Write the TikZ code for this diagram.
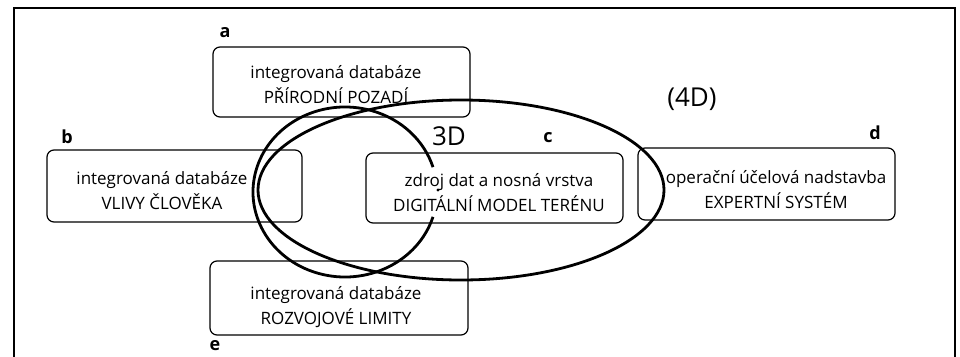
\documentclass[tikz,border=0pt]{standalone}
\usepackage{fontspec}
\setmainfont{Open Sans}
\begin{document}
\begin{tikzpicture}[x=1pt,y=-1pt,
  box/.style={draw, rounded corners=7pt, line width=1.2pt, inner sep=0pt},
  txt/.style={align=center, inner sep=0pt, font=\fontsize{17}{25}\selectfont},
  lbl/.style={inner sep=0pt, font=\fontsize{18}{20}\selectfont\bfseries},
  big/.style={inner sep=0pt, font=\fontsize{26}{28}\selectfont},
  curve/.style={line width=2.8pt}
]
\useasboundingbox (0,0) rectangle (960,356);
\draw[line width=1.6pt] (14,360) -- (14,8) -- (955,8) -- (955,360);

% boxes
\node[box, minimum width=257pt, minimum height=70pt] (a) at (341.5,82) {};
\node[box, minimum width=255pt, minimum height=72pt] (b) at (174.5,186) {};
\node[box, minimum width=257pt, minimum height=70pt] (c) at (494.5,188) {};
\node[box, minimum width=257pt, minimum height=72pt] (d) at (766.5,184) {};
\node[box, minimum width=258pt, minimum height=74pt] (e) at (339,298) {};

% texts
\node[txt] (ta) at (336,85) {integrovaná databáze\\PŘÍRODNÍ POZADÍ};
\node[txt] (tb) at (162,191) {integrovaná databáze\\VLIVY ČLOVĚKA};
\node[txt] (tc) at (499,192.5) {zdroj dat a nosná vrstva\\DIGITÁLNÍ MODEL TERÉNU};
\node[txt] (td) at (776,190) {operační účelová nadstavba\\EXPERTNÍ SYSTÉM};
\node[txt] (te) at (336,307.5) {integrovaná databáze\\ROZVOJOVÉ LIMITY};

% labels
\node[lbl] (la) at (225,33) {a};
\node[lbl] (lb) at (67,137) {b};
\node[lbl] (lc) at (548,138) {c};
\node[lbl] (ld) at (875,133) {d};
\node[lbl] (le) at (215,346) {e};
\node[big] (l3) at (449,136) {3D};
\node[big] (l4) at (692,99) {(4D)};

% ellipses
\draw[curve] (461,190) ellipse [x radius=203, y radius=90];
\draw[curve] (345,192) ++(17:92 and 85) arc [start angle=17, end angle=343, x radius=92, y radius=85];
\fill (438,190) circle (1.6pt);
\end{tikzpicture}
\end{document}
